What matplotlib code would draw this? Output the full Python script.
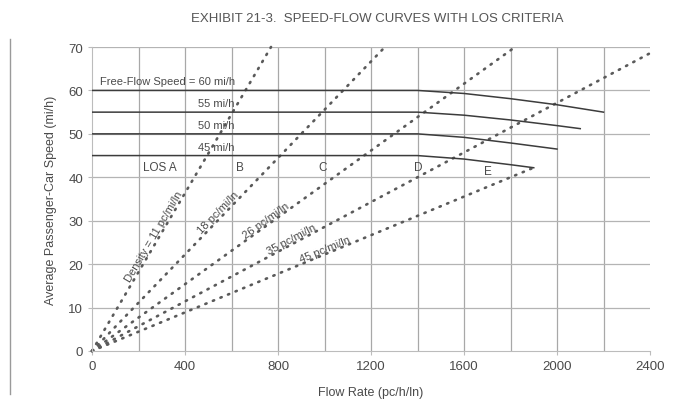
import numpy as np
import matplotlib
matplotlib.use("Agg")
import matplotlib.pyplot as plt
from matplotlib.lines import Line2D

# ---- data ----
flow_60 = [0, 1400, 1600, 1800, 2000, 2200]
speed_60 = [60, 60, 59.3, 58.1, 56.7, 55.0]
flow_55 = [0, 1400, 1600, 1800, 2000, 2100]
speed_55 = [55, 55, 54.3, 53.2, 51.9, 51.2]
flow_50 = [0, 1400, 1600, 1800, 2000]
speed_50 = [50, 50, 49.2, 47.9, 46.5]
flow_45 = [0, 1400, 1600, 1800, 1900]
speed_45 = [45, 45, 44.2, 42.9, 42.2]

densities = [11, 18, 26, 35, 45]
density_end_flow = [770, 1260, 1820, 2420, 1900]
density_labels = ["Density = 11 pc/mi/ln", "18 pc/mi/ln", "26 pc/mi/ln",
                  "35 pc/mi/ln", "45 pc/mi/ln"]
density_label_flow = [285, 560, 760, 870, 1010]

speed_labels = ["Free-Flow Speed = 60 mi/h", "55 mi/h", "50 mi/h", "45 mi/h"]
speed_label_pos = [(35, 61.0), (456, 55.9), (456, 50.9), (456, 45.9)]

los_labels = ["LOS A", "B", "C", "D", "E"]
los_flow = [292, 636, 994, 1402, 1703]
los_speed = [42.3, 42.3, 42.3, 42.3, 41.5]

x_ticks = [0, 400, 800, 1200, 1600, 2000, 2400]
y_ticks = [0, 10, 20, 30, 40, 50, 60, 70]

# ---- figure ----
fig = plt.figure(figsize=(6.73, 4.06), dpi=100)
ax = fig.add_axes([92/673, (406-352)/406, 558/673, 304/406])
ax.set_xlim(0, 2400)
ax.set_ylim(0, 70)

fam = ["Liberation Sans", "DejaVu Sans"]
tc = "#4a4a4a"

# grid
for gx in range(200, 2400, 200):
    ax.axvline(gx, color="#a8a8a8", lw=0.9, zorder=1)
for gy in range(10, 80, 10):
    ax.axhline(gy, color="#b4b4b4", lw=0.9, zorder=1)

for s in ["top", "right"]:
    ax.spines[s].set_visible(False)
for s in ["left", "bottom"]:
    ax.spines[s].set_color("#bcbcbc")
    ax.spines[s].set_linewidth(0.8)

# speed curves
for fl, sp in [(flow_60, speed_60), (flow_55, speed_55), (flow_50, speed_50), (flow_45, speed_45)]:
    ax.plot(fl, sp, color="#3c3c3c", lw=1.1, zorder=3)

# density lines
fig.canvas.draw()
for d, fe, lab, lf in zip(densities, density_end_flow, density_labels, density_label_flow):
    fx = np.array([0, fe])
    ax.plot(fx, fx / d, color="#5a5a5a", lw=1.9, linestyle=(0, (0.5, 2.6)),
            dash_capstyle="round", zorder=2, clip_on=False)
    p1 = ax.transData.transform((0, 0))
    p2 = ax.transData.transform((1000, 1000 / d))
    ang = np.degrees(np.arctan2(p2[1] - p1[1], p2[0] - p1[0]))
    ax.text(lf, lf / d, lab, rotation=ang, rotation_mode="anchor",
            ha="center", va="bottom", fontsize=8, color=tc, family=fam, zorder=4)

for lab, (x, y) in zip(speed_labels, speed_label_pos):
    ax.text(x, y, lab, fontsize=8, color=tc, family=fam, ha="left", va="bottom", zorder=4)

for lab, x, y in zip(los_labels, los_flow, los_speed):
    ax.text(x, y, lab, fontsize=8.5, color=tc, family=fam, ha="center", va="center", zorder=4)

ax.set_xticks(x_ticks)
ax.set_yticks(y_ticks)
ax.tick_params(axis="both", colors="#bcbcbc", labelcolor=tc, labelsize=9.5, length=3)
for t in ax.get_xticklabels() + ax.get_yticklabels():
    t.set_family(fam)

ax.set_xlabel("Flow Rate (pc/h/ln)", fontsize=9, color=tc, family=fam, labelpad=10)
ax.set_ylabel("Average Passenger-Car Speed (mi/h)", fontsize=9, color=tc, family=fam)
ax.yaxis.set_label_coords(-0.063, 0.5)

fig.text(0.56, 0.953, "EXHIBIT 21-3.  SPEED-FLOW CURVES WITH LOS CRITERIA",
         ha="center", va="center", fontsize=9.5, color="#555555", family=fam)

# page margin line of the scan
fig.add_artist(Line2D([10/673, 10/673], [1 - 40/406, 1 - 395/406], color="#9a9a9a", lw=1.0))

fig.savefig("out.png", dpi=100)
